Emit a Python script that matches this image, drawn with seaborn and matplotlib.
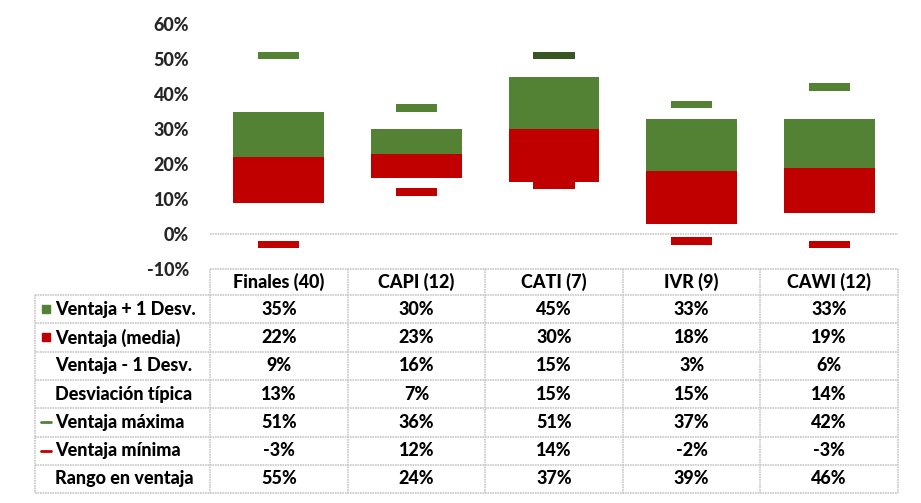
import numpy as np
import seaborn as sns
import matplotlib.pyplot as plt
from matplotlib.lines import Line2D
from matplotlib.patches import Rectangle

cats = ["Finales (40)", "CAPI (12)", "CATI (7)", "IVR (9)", "CAWI (12)"]
plus = [35, 30, 45, 33, 33]
media = [22, 23, 30, 18, 19]
minus = [9, 16, 15, 3, 6]
std = [13, 7, 15, 15, 14]
maxv = [51, 36, 51, 37, 42]
minv = [-3, 12, 14, -2, -3]
rango = [55, 24, 37, 39, 46]

row_labels = ["Ventaja + 1 Desv.", "Ventaja (media)", "Ventaja - 1 Desv.",
              "Desviación típica", "Ventaja máxima", "Ventaja mínima",
              "Rango en ventaja"]
rows = [plus, media, minus, std, maxv, minv, rango]

green = "#548235"
dkgreen = "#375623"
red = "#C00000"
grid_c = "#c8c8c8"

sns.set_theme(style="white")
plt.rcParams["font.family"] = ["Lato", "DejaVu Sans"]
fw = "black"
fs = 13

W, H = 921, 503
fig = plt.figure(figsize=(W / 100, H / 100), dpi=100)


def fx(px):
    return px / W


def fy(py):
    return 1 - py / H


ax = fig.add_axes([fx(210), fy(269), fx(898) - fx(210), fy(24) - fy(269)])

bkw = dict(saturation=1, errorbar=None, linewidth=0, ax=ax)
# red: minus -> media, green: media -> plus
sns.barplot(x=cats, y=np.array(media) - np.array(minus), bottom=minus,
            color=red, width=0.66, **bkw)
sns.barplot(x=cats, y=np.array(plus) - np.array(media), bottom=media,
            color=green, width=0.66, **bkw)

# max / min markers
mk_h = 2.2
sns.barplot(x=cats, y=[mk_h] * 5, bottom=np.array(maxv) - mk_h / 2,
            color=green, width=0.3, **bkw)
ax.patches[-3].set_facecolor(dkgreen)  # CATI max is darker
sns.barplot(x=cats, y=[mk_h] * 5, bottom=np.array(minv) - mk_h / 2,
            color=red, width=0.3, **bkw)

ax.axhline(0, color=grid_c, lw=1.2, ls=(0, (1, 0.5)), zorder=0)
ax.set_xlim(-0.5, 4.5)
ax.set_ylim(-10, 60)
ax.set_yticks(range(-10, 61, 10))
ax.set_yticklabels([f"{v}%" for v in range(-10, 61, 10)], fontsize=fs,
                   fontweight=fw)
ax.tick_params(axis="y", length=0, pad=15)
ax.set_xticks([])
ax.set_xlabel("")
ax.set_ylabel("")
for s in ax.spines.values():
    s.set_visible(False)

# data table
col_x = [210 + k * 137.6 for k in range(6)]
top = 269
hdr_b = 295
row_h = 28.3
row_y = [hdr_b + i * row_h for i in range(8)]
lkw = dict(color=grid_c, lw=1.2, ls=(0, (1, 0.5)))

fig.add_artist(Line2D([fx(col_x[0]), fx(col_x[-1])], [fy(top), fy(top)], **lkw))
for y in row_y:
    fig.add_artist(Line2D([fx(35), fx(col_x[-1])], [fy(y), fy(y)], **lkw))
for x in col_x:
    fig.add_artist(Line2D([fx(x), fx(x)], [fy(top), fy(row_y[-1])], **lkw))
fig.add_artist(Line2D([fx(35), fx(35)], [fy(hdr_b), fy(row_y[-1])], **lkw))

tkw = dict(fontsize=fs, fontweight=fw, va="center", color="black")
for j, c in enumerate(cats):
    fig.text(fx(col_x[j] + 68.8), fy((top + hdr_b) / 2), c, ha="center", **tkw)

for i, (lab, vals) in enumerate(zip(row_labels, rows)):
    yc = (row_y[i] + row_y[i + 1]) / 2
    fig.text(fx(55), fy(yc), lab, ha="left", **tkw)
    for j, v in enumerate(vals):
        fig.text(fx(col_x[j] + 68.8), fy(yc), f"{v}%", ha="center", **tkw)

# legend keys
keys = {0: ("sq", green), 1: ("sq", red), 4: ("ln", green), 5: ("ln", red)}
for i, (kind, col) in keys.items():
    yc = (row_y[i] + row_y[i + 1]) / 2
    if kind == "sq":
        fig.add_artist(Rectangle((fx(42), fy(yc + 4)), fx(8), 8 / H,
                                 color=col, transform=fig.transFigure))
    else:
        fig.add_artist(Line2D([fx(41), fx(51)], [fy(yc), fy(yc)],
                              color=col, lw=2))

fig.savefig("out.png", dpi=100)
